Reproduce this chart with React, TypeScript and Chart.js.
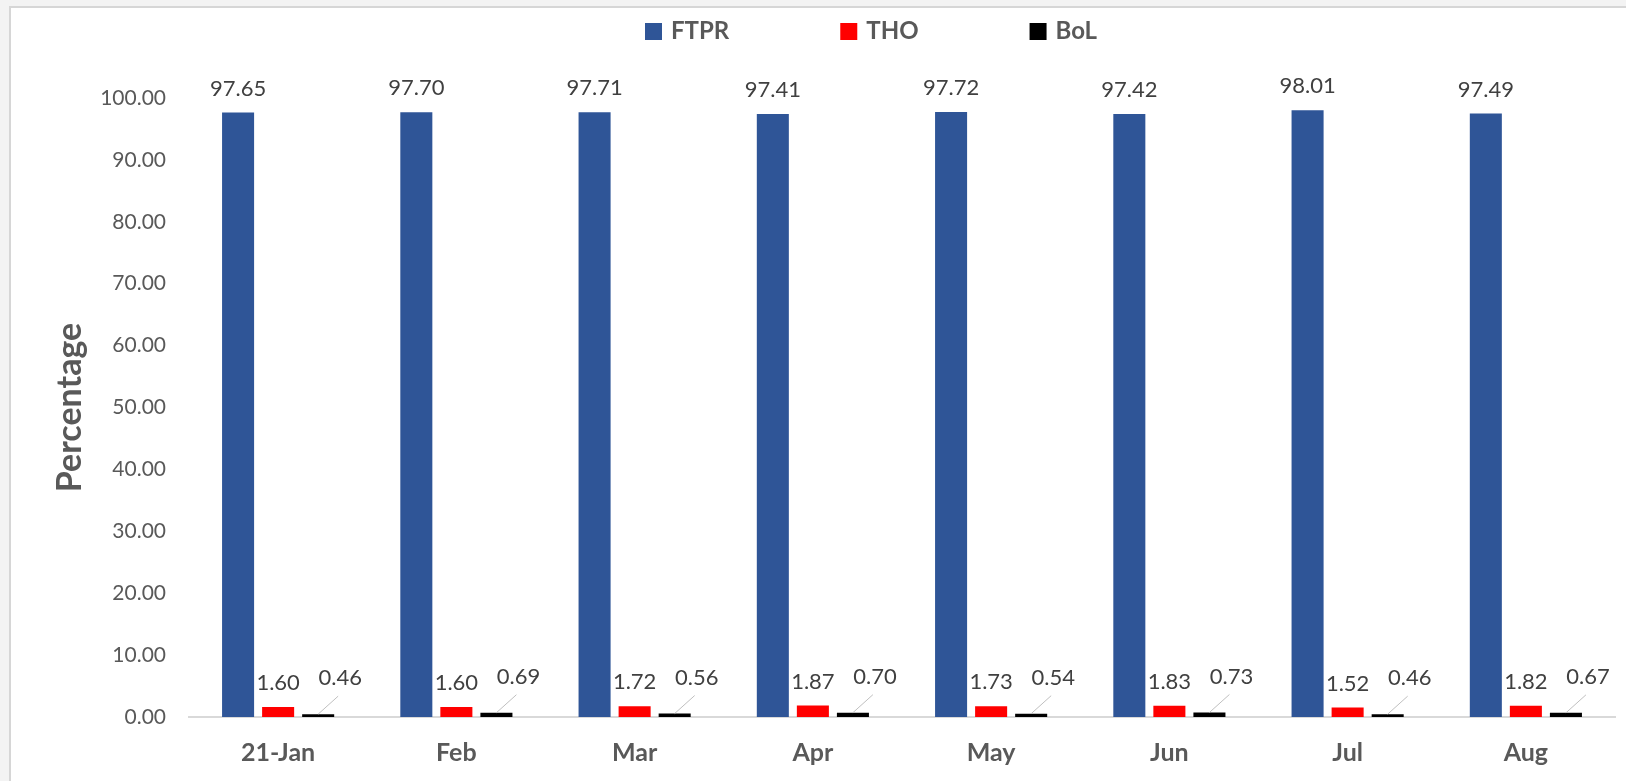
import React, { useEffect, useRef } from "react";
import { Chart, registerables } from "chart.js";

Chart.register(...registerables);

const categories = ["21-Jan", "Feb", "Mar", "Apr", "May", "Jun", "Jul", "Aug"];
const seriesNames = ["FTPR", "THO", "BoL"];
const ftprValues = [97.65, 97.7, 97.71, 97.41, 97.72, 97.42, 98.01, 97.49];
const thoValues = [1.6, 1.6, 1.72, 1.87, 1.73, 1.83, 1.52, 1.82];
const bolValues = [0.46, 0.69, 0.56, 0.7, 0.54, 0.73, 0.46, 0.67];
const yTicks = [0, 10, 20, 30, 40, 50, 60, 70, 80, 90, 100];

const COLORS = ["#2F5597", "#FF0000", "#000000"];
const FONT = "Lato, 'Open Sans', sans-serif";

const labelPlugin = {
  id: "valueLabels",
  afterDatasetsDraw(chart: any) {
    const ctx = chart.ctx;
    ctx.save();
    ctx.font = `22px ${FONT}`;
    ctx.fillStyle = "#404040";
    ctx.textAlign = "center";
    ctx.textBaseline = "middle";
    chart.data.datasets.forEach((ds: any, i: number) => {
      const meta = chart.getDatasetMeta(i);
      meta.data.forEach((el: any, j: number) => {
        const txt = Number(ds.data[j]).toFixed(2);
        if (i < 2) {
          ctx.fillText(txt, el.x, el.y - 24);
        } else {
          ctx.strokeStyle = "#bfbfbf";
          ctx.lineWidth = 1;
          ctx.beginPath();
          ctx.moveTo(el.x, el.y);
          ctx.lineTo(el.x + 20, el.y - 18);
          ctx.stroke();
          ctx.fillText(txt, el.x + 22, el.y - 36);
        }
      });
    });
    ctx.restore();
  },
  afterDraw(chart: any) {
    const ctx = chart.ctx;
    ctx.save();
    ctx.font = `bold 24px ${FONT}`;
    ctx.textBaseline = "middle";
    ctx.textAlign = "left";
    let x = 645;
    const yc = 31;
    chart.data.datasets.forEach((ds: any) => {
      ctx.fillStyle = ds.backgroundColor;
      ctx.fillRect(x, yc - 8, 17, 17);
      ctx.fillStyle = "#595959";
      const tx = x + 26;
      ctx.fillText(ds.label, tx, yc);
      const w = ctx.measureText(ds.label).width;
      x = tx + w + 111;
    });
    ctx.restore();
  },
};

export default function App() {
  const ref = useRef<HTMLCanvasElement | null>(null);
  useEffect(() => {
    document.body.style.margin = "0";
    if (!ref.current) return;
    const chart = new Chart(ref.current, {
      type: "bar",
      data: {
        labels: categories,
        datasets: [
          { label: seriesNames[0], data: ftprValues, backgroundColor: COLORS[0] },
          { label: seriesNames[1], data: thoValues, backgroundColor: COLORS[1] },
          { label: seriesNames[2], data: bolValues, backgroundColor: COLORS[2] },
        ],
      },
      options: {
        responsive: false,
        animation: false,
        datasets: {
          bar: { categoryPercentage: 0.674, barPercentage: 0.8 },
        },
        layout: { padding: { left: 40, right: 11, top: 98, bottom: 0 } },
        plugins: { legend: { display: false }, tooltip: { enabled: false } },
        scales: {
          x: {
            grid: { display: false, drawTicks: false },
            border: { display: true, color: "#d9d9d9", width: 2 },
            ticks: {
              color: "#595959",
              font: { family: FONT, size: 25, weight: "bold" },
              padding: 21,
            },
            afterFit(scale: any) {
              scale.height = 64;
            },
          },
          y: {
            min: 0,
            max: 100,
            afterBuildTicks(scale: any) {
              scale.ticks = yTicks.map((v) => ({ value: v }));
            },
            grid: { display: false, drawTicks: false },
            border: { display: false },
            ticks: {
              color: "#595959",
              font: { family: FONT, size: 21 },
              padding: 23,
              callback: (v: any) => Number(v).toFixed(2),
            },
            title: {
              display: true,
              text: "Percentage",
              color: "#595959",
              font: { family: FONT, size: 34, weight: "bold" },
              padding: { top: 10, bottom: 0 },
            },
            afterFit(scale: any) {
              scale.width = 149;
            },
          },
        },
      },
      plugins: [labelPlugin],
    });
    return () => chart.destroy();
  }, []);

  return (
    <div
      style={{
        position: "fixed",
        left: 0,
        top: 0,
        width: 1626,
        height: 781,
        background: "#f3f3f3",
        overflow: "hidden",
      }}
    >
      <div
        style={{
          position: "absolute",
          left: 9,
          top: 6,
          right: 0,
          bottom: 0,
          background: "#ffffff",
          borderLeft: "2px solid #d6d6d6",
          borderTop: "2px solid #d6d6d6",
        }}
      />
      <canvas
        ref={ref}
        width={1626}
        height={781}
        style={{ position: "absolute", left: 0, top: 0, width: 1626, height: 781 }}
      />
    </div>
  );
}
